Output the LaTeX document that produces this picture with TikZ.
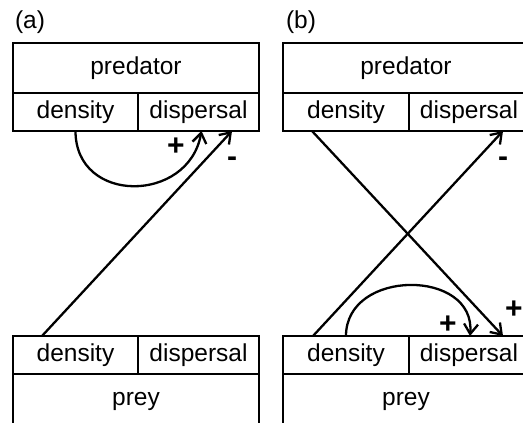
\documentclass[tikz,border=0pt]{standalone}
\usepackage{fontspec}
\setmainfont{Liberation Sans}
\usetikzlibrary{arrows.meta,positioning}

\tikzset{
  cell/.style={shape=rectangle, draw, line width=2.1pt, inner sep=0pt, outer sep=0pt,
    font=\fontsize{24.5}{28}\selectfont},
  link/.style={-{Straight Barb[length=10pt,width=14pt]}, line width=2.3pt},
  sign/.style={font=\fontsize{30}{34}\selectfont\bfseries},
  tag/.style={font=\fontsize{24.5}{28}\selectfont}
}

\begin{document}
\begin{tikzpicture}[x=1pt, y=1pt]
\useasboundingbox (0,0) rectangle (523,423);
\clip (0,0) rectangle (523,423);

% panel (a)
\node (tagA) at (30,401) [tag] {(a)};

\node (predA) at (136,355) [cell, minimum width=246pt, minimum height=50pt] {predator};
\node (predAdens) at (predA.south west) [cell, anchor=north west, minimum width=125pt, minimum height=38pt] {density};
\node (predAdisp) [cell, right=0pt of predAdens, minimum width=121pt, minimum height=38pt] {dispersal};

\node (preyAdens) at (13,87) [cell, anchor=north west, minimum width=125pt, minimum height=38pt] {density};
\node (preyAdisp) [cell, right=0pt of preyAdens, minimum width=121pt, minimum height=38pt] {dispersal};
\node (preyA) at (preyAdens.south west) [cell, anchor=north west, minimum width=246pt, minimum height=54pt] {prey};

\draw [link] (predAdens.south) to[out=-90, in=-100, looseness=1.5] ([xshift=3pt]predAdisp.south);
\draw [link] ([xshift=29pt]preyAdens.north west) -- ([xshift=-27pt]predAdisp.south east);

\node (plusA) at (176,276) [sign] {+};
\node (minusA) at (232,261) [sign] {-};

% panel (b)
\node (tagB) at (301,401) [tag] {(b)};

\node (predB) at (406,355) [cell, minimum width=246pt, minimum height=50pt] {predator};
\node (predBdens) at (predB.south west) [cell, anchor=north west, minimum width=126pt, minimum height=38pt] {density};
\node (predBdisp) [cell, right=0pt of predBdens, minimum width=120pt, minimum height=38pt] {dispersal};

\node (preyBdens) at (283,87) [cell, anchor=north west, minimum width=126pt, minimum height=38pt] {density};
\node (preyBdisp) [cell, right=0pt of preyBdens, minimum width=120pt, minimum height=38pt] {dispersal};
\node (preyB) at (preyBdens.south west) [cell, anchor=north west, minimum width=246pt, minimum height=54pt] {prey};

\draw [link] ([xshift=29pt]predBdens.south west) -- ([xshift=-26pt]preyBdisp.north east);
\draw [link] ([xshift=30pt]preyBdens.north west) -- ([xshift=-26pt]predBdisp.south east);
\draw [link] (preyBdens.north) to[out=90, in=85, looseness=1.4] ([xshift=1pt]preyBdisp.north);

\node (plusB) at (448,98) [sign] {+};
\node (plusC) at (514,113) [sign] {+};
\node (minusB) at (503,261) [sign] {-};
\end{tikzpicture}
\end{document}
